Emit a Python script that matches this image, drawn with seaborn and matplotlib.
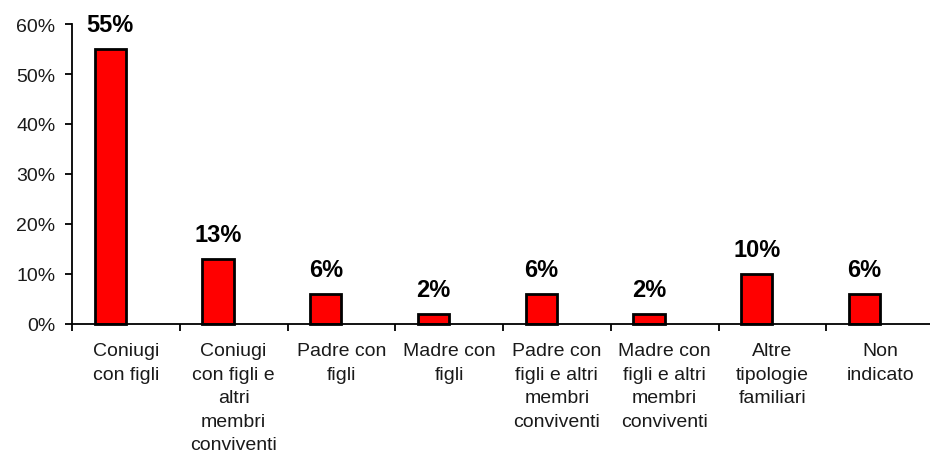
import matplotlib
matplotlib.use("Agg")
import matplotlib.pyplot as plt
import seaborn as sns
import pandas as pd
import numpy as np
from matplotlib.ticker import FixedLocator, PercentFormatter

categories = [
    "Coniugi\ncon figli",
    "Coniugi\ncon figli e\naltri\nmembri\nconviventi",
    "Padre con\nfigli",
    "Madre con\nfigli",
    "Padre con\nfigli e altri\nmembri\nconviventi",
    "Madre con\nfigli e altri\nmembri\nconviventi",
    "Altre\ntipologie\nfamiliari",
    "Non\nindicato",
]
values = [55, 13, 6, 2, 6, 2, 10, 6]
series = ["Percentuale", "_vuota"]

sns.set_theme(style="white")
plt.rcParams["font.family"] = ["Liberation Sans", "DejaVu Sans"]

df = pd.DataFrame({
    "cat": categories + categories,
    "val": values + [np.nan] * len(values),
    "serie": [series[0]] * len(values) + [series[1]] * len(values),
})

fig = plt.figure(figsize=(9.3, 4.56), dpi=100)
ax = fig.add_axes([72 / 930, 131 / 456, 862 / 930, 300 / 456])

sns.barplot(data=df, x="cat", y="val", hue="serie", hue_order=series,
            order=categories, palette=["#ff0000", "#ff0000"], saturation=1,
            width=0.58, dodge=True, edgecolor="black", linewidth=2.0,
            legend=False, ax=ax, clip_on=False)

ax.set_ylim(0, 60)
ax.set_xlim(-0.5, len(categories) - 0.5)
ax.set_yticks(range(0, 61, 10))
ax.yaxis.set_major_formatter(PercentFormatter(decimals=0))
ax.set_xlabel("")
ax.set_ylabel("")

for sp in ["top", "right"]:
    ax.spines[sp].set_visible(False)
for sp in ["left", "bottom"]:
    ax.spines[sp].set_color("black")
    ax.spines[sp].set_linewidth(1.3)

ax.tick_params(axis="y", which="major", direction="out", length=5, width=1.3,
               color="black", labelsize=14, pad=7, left=True, labelcolor="#1a1a1a")
ax.tick_params(axis="x", which="major", length=0, labelsize=14, pad=13,
               labelcolor="#1a1a1a")
ax.xaxis.set_minor_locator(FixedLocator(np.arange(-0.5, len(categories), 1.0)))
ax.tick_params(axis="x", which="minor", direction="out", length=5, width=1.3,
               color="black", bottom=True)
for lab in ax.get_xticklabels():
    lab.set_linespacing(1.5)

cont = ax.containers[0]
for bar, v in zip(cont, values):
    ax.annotate(f"{v}%", (bar.get_x() + bar.get_width() / 2, bar.get_height()),
                xytext=(0, 9.5), textcoords="offset points", ha="center",
                va="bottom", fontsize=17, fontweight="bold", color="black",
                annotation_clip=False)

fig.savefig("out.png", dpi=100)
